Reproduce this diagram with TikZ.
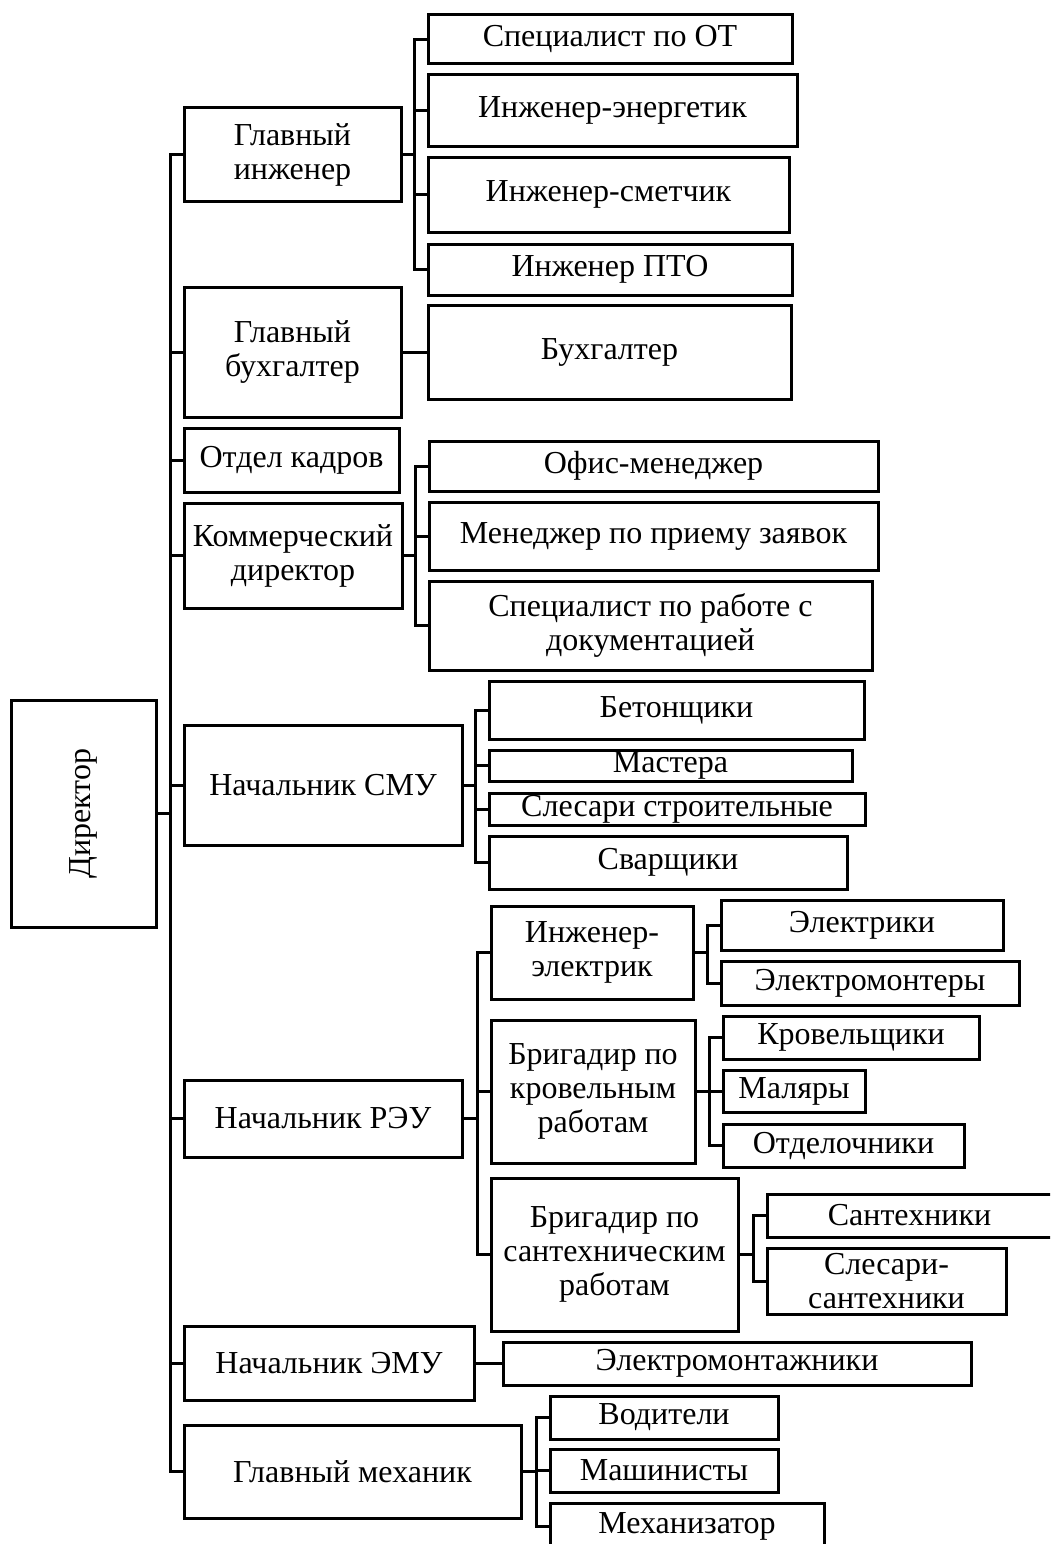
\documentclass[tikz,border=0pt]{standalone}
\usepackage{fontspec}
\setmainfont{Liberation Serif}
\tikzset{
  box/.style={draw, line width=3pt, inner sep=0pt, align=center,
    font=\fontsize{32}{34}\selectfont},
  conn/.style={line width=3pt}
}
\newcommand\bx[6]{\node[box, minimum width={#4-#2}, minimum height={#5-#3}] (#1) at ({(#2+#4)/2},{(#3+#5)/2}) {#6};}
\begin{document}
\begin{tikzpicture}[x=1pt,y=-1pt]
\useasboundingbox (0,0) rectangle (1050,1544);
\clip (0,0) rectangle (1050,1544);
% Director
\bx{dir}{11}{700}{156}{927}{\rotatebox{90}{Директор}}
% level 1
\bx{gi}{184}{108}{401}{201}{Главный\\инженер}
\bx{gb}{184}{287}{401}{417}{Главный\\бухгалтер}
\bx{ok}{184}{428}{399}{492}{Отдел кадров}
\bx{kd}{184}{503}{402}{608}{Коммерческий\\директор}
\bx{smu}{184}{725}{462}{845}{Начальник СМУ}
\bx{reu}{184}{1080}{462}{1157}{Начальник РЭУ}
\bx{emu}{184}{1326}{474}{1400}{Начальник ЭМУ}
\bx{gm}{184}{1425}{521}{1518}{Главный механик}
% chief engineer
\bx{ot}{428}{15}{792}{64}{Специалист по ОТ}
\bx{ie}{428}{75}{797}{146}{Инженер-энергетик}
\bx{is}{428}{157}{789}{232}{Инженер-сметчик}
\bx{pto}{428}{244}{792}{295}{Инженер ПТО}
% accountant
\bx{bu}{428}{305}{791}{399}{Бухгалтер}
% commercial
\bx{om}{429}{441}{878}{491}{Офис-менеджер}
\bx{mz}{429}{502}{878}{570}{Менеджер по приему заявок}
\bx{sd}{429}{581}{872}{670}{Специалист по работе с\\документацией}
% SMU
\bx{bet}{489}{681}{864}{739}{Бетонщики}
\bx{mas}{489}{750}{852}{781}{Мастера}
\bx{sls}{489}{793}{865}{825}{Слесари строительные}
\bx{sva}{489}{836}{847}{889}{Сварщики}
% REU
\bx{iel}{491}{906}{693}{999}{Инженер-\\электрик}
\bx{bkr}{491}{1020}{695}{1163}{Бригадир по\\кровельным\\работам}
\bx{bsr}{491}{1178}{738}{1331}{Бригадир по\\сантехническим\\работам}
\bx{el}{721}{900}{1003}{950}{Электрики}
\bx{elm}{721}{961}{1019}{1005}{Электромонтеры}
\bx{kro}{723}{1016}{979}{1059}{Кровельщики}
\bx{mal}{723}{1070}{865}{1112}{Маляры}
\bx{otd}{723}{1124}{964}{1167}{Отделочники}
\bx{san}{767}{1194}{1052}{1237}{Сантехники}
\bx{ssa}{767}{1248}{1006}{1314}{Слесари-\\сантехники}
% EMU
\bx{emo}{503}{1342}{971}{1385}{Электромонтажники}
% mechanic
\bx{vod}{550}{1396}{778}{1439}{Водители}
\bx{mash}{550}{1449}{778}{1492}{Машинисты}
\bx{mex}{550}{1503}{824}{1549}{Механизатор}
% bus coordinates
\coordinate (T) at (170,0);
\coordinate (bGI) at (414,0);
\coordinate (bKD) at (415,0);
\coordinate (bSMU) at (475,0);
\coordinate (bREU) at (477,0);
\coordinate (bIEL) at (707,0);
\coordinate (bBKR) at (709,0);
\coordinate (bBSR) at (753,0);
\coordinate (bGM) at (536,0);
% trunk
\draw[conn] (gi.west) -- (gi.west -| T) -- (gm.west -| T) -- (gm.west);
\foreach \n in {gb,ok,kd,smu,reu,emu} \draw[conn] (\n.west) -- (\n.west -| T);
\draw[conn] (dir.east) -- (dir.east -| T);
% chief engineer
\draw[conn] (gi.east) -- (gi.east -| bGI);
\draw[conn] (ot.west) -- (ot.west -| bGI) -- (pto.west -| bGI) -- (pto.west);
\foreach \n in {ie,is} \draw[conn] (\n.west) -- (\n.west -| bGI);
% accountant
\draw[conn] (gb.east) -- (bu.west);
% commercial
\draw[conn] (kd.east) -- (kd.east -| bKD);
\draw[conn] (om.west) -- (om.west -| bKD) -- (sd.west -| bKD) -- (sd.west);
\draw[conn] (mz.west) -- (mz.west -| bKD);
% SMU
\draw[conn] (smu.east) -- (smu.east -| bSMU);
\draw[conn] (bet.west) -- (bet.west -| bSMU) -- (sva.west -| bSMU) -- (sva.west);
\foreach \n in {mas,sls} \draw[conn] (\n.west) -- (\n.west -| bSMU);
% REU
\draw[conn] (reu.east) -- (reu.east -| bREU);
\draw[conn] (iel.west) -- (iel.west -| bREU) -- (bsr.west -| bREU) -- (bsr.west);
\draw[conn] (bkr.west) -- (bkr.west -| bREU);
\draw[conn] (iel.east) -- (iel.east -| bIEL);
\draw[conn] (el.west) -- (el.west -| bIEL) -- (elm.west -| bIEL) -- (elm.west);
\draw[conn] (bkr.east) -- (bkr.east -| bBKR);
\draw[conn] (kro.west) -- (kro.west -| bBKR) -- (otd.west -| bBKR) -- (otd.west);
\draw[conn] (mal.west) -- (mal.west -| bBKR);
\draw[conn] (bsr.east) -- (bsr.east -| bBSR);
\draw[conn] (san.west) -- (san.west -| bBSR) -- (ssa.west -| bBSR) -- (ssa.west);
% EMU
\draw[conn] (emu.east) -- (emu.east -| emo.west);
% mechanic
\draw[conn] (gm.east) -- (gm.east -| bGM);
\draw[conn] (vod.west) -- (vod.west -| bGM) -- (mex.west -| bGM) -- (mex.west);
\draw[conn] (mash.west) -- (mash.west -| bGM);
\end{tikzpicture}
\end{document}
